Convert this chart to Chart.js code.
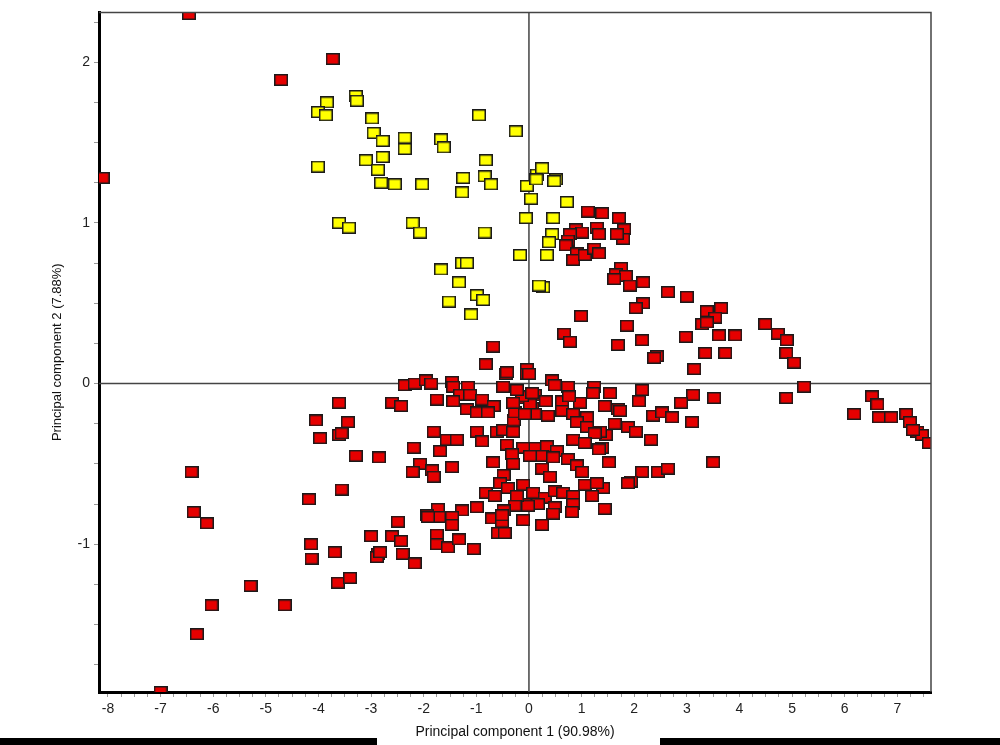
<!DOCTYPE html>
<html>
<head>
<meta charset="utf-8">
<script src="https://cdn.jsdelivr.net/npm/chart.js@4.4.1/dist/chart.umd.min.js"></script>
<style>
  html, body { margin: 0; padding: 0; background: #fff; }
  #wrap { position: relative; width: 1000px; height: 745px; }
</style>
</head>
<body>
<div id="wrap"><canvas id="pcaChart"></canvas></div>
<script>
// Axis ranges and tick labels
const xRange = [-8.17, 7.64];
const yRange = [-1.92, 2.31];
const xTickLabels = [-8, -7, -6, -5, -4, -3, -2, -1, 0, 1, 2, 3, 4, 5, 6, 7];
const yTickLabels = [-1, 0, 1, 2];
const minorStep = 0.25;

// Score values [PC1, PC2], yellow group
const yellowScores = [
    [-3.84, 1.75], [-4.01, 1.69], [-3.86, 1.67], [-3.29, 1.79], [-3.27, 1.76],
    [-2.98, 1.65], [-2.95, 1.56], [-2.78, 1.51], [-2.36, 1.53], [-2.36, 1.46],
    [-1.67, 1.52], [-1.62, 1.47], [-0.95, 1.67], [-0.25, 1.57], [-4.01, 1.35],
    [-3.10, 1.39], [-2.78, 1.41], [-2.87, 1.33], [-2.81, 1.25], [-2.55, 1.24],
    [-2.03, 1.24], [-1.25, 1.28], [-1.27, 1.19], [-0.82, 1.39], [-0.84, 1.29],
    [-0.72, 1.24], [-0.04, 1.23], [0.15, 1.30], [0.25, 1.34], [0.51, 1.27],
    [0.48, 1.26], [0.04, 1.15], [-0.06, 1.03], [0.46, 1.03], [0.72, 1.13],
    [-3.61, 1.00], [-3.42, 0.97], [-2.21, 1.00], [-2.07, 0.94], [-0.84, 0.94],
    [-0.17, 0.80], [0.34, 0.80], [0.44, 0.93], [0.38, 0.88], [-1.67, 0.71],
    [-1.27, 0.75], [-1.18, 0.75], [-1.33, 0.63], [-1.52, 0.51], [-0.99, 0.55],
    [-0.87, 0.52], [-1.10, 0.43], [0.27, 0.60], [0.19, 0.61], [0.14, 1.27]
];

// Score values [PC1, PC2], red group
const redScores = [
    // outliers
    [-6.46, 2.30], [-4.71, 1.89], [-3.73, 2.02], [-8.10, 1.28], [-7.00, -1.92],
    // upper right arm
    [1.12, 1.07], [1.39, 1.06], [1.71, 1.03], [1.81, 0.96], [1.79, 0.90],
    [1.67, 0.93], [0.89, 0.96], [1.01, 0.94], [0.78, 0.93], [0.74, 0.89],
    [0.70, 0.86], [1.29, 0.97], [1.33, 0.93], [0.91, 0.81], [0.84, 0.77],
    [1.06, 0.80], [1.24, 0.84], [1.33, 0.81], [1.75, 0.72], [1.65, 0.68],
    [1.84, 0.67], [1.62, 0.65], [1.92, 0.61], [2.17, 0.63], [2.64, 0.57],
    [3.00, 0.54], [3.38, 0.45], [3.65, 0.47], [3.54, 0.41], [3.29, 0.37],
    [3.38, 0.38], [2.17, 0.50], [2.03, 0.47], [0.99, 0.42], [1.86, 0.36],
    [0.67, 0.31], [0.78, 0.26], [2.15, 0.27], [1.69, 0.24], [2.98, 0.29],
    [3.61, 0.30], [3.92, 0.30], [2.43, 0.17], [2.38, 0.16], [3.35, 0.19],
    [3.73, 0.19], [3.14, 0.09], [4.49, 0.37], [4.73, 0.31], [4.90, 0.27],
    [4.89, 0.19], [5.04, 0.13], [-0.04, 0.09], [-0.04, 0.06], [-0.44, 0.06],
    [-0.68, 0.23], [-0.82, 0.12], [0.00, 0.06], [-0.42, 0.07],
    // right tail
    [5.23, -0.02], [4.89, -0.09], [6.52, -0.08], [6.62, -0.13], [6.18, -0.19],
    [6.65, -0.21], [6.88, -0.21], [7.17, -0.19], [7.24, -0.24], [7.38, -0.30],
    [7.47, -0.32], [7.60, -0.37], [7.30, -0.29],
    // right of centre
    [1.54, -0.06], [1.44, -0.14], [1.69, -0.16], [2.15, -0.04], [2.09, -0.11],
    [3.12, -0.07], [3.52, -0.09], [2.89, -0.12], [2.36, -0.20], [2.53, -0.18],
    [2.72, -0.21], [3.10, -0.24], [1.63, -0.25], [1.88, -0.27], [2.03, -0.30],
    [1.46, -0.32], [2.32, -0.35], [1.39, -0.40], [1.52, -0.49], [3.50, -0.49],
    [2.15, -0.55], [2.45, -0.55], [2.64, -0.53], [1.94, -0.61], [1.41, -0.65],
    [0.44, 0.02], [0.49, -0.01], [0.74, -0.02], [1.24, -0.02], [1.22, -0.06],
    [0.11, -0.07], [-0.11, -0.09], [0.32, -0.11], [0.63, -0.11], [0.97, -0.12],
    [0.76, -0.08], [0.06, -0.15], [0.02, -0.19], [0.36, -0.20], [0.63, -0.17],
    [0.84, -0.19], [1.10, -0.21], [0.91, -0.24], [1.10, -0.27], [1.35, -0.30],
    [1.25, -0.31], [0.84, -0.35], [1.06, -0.37], [1.33, -0.41], [0.11, -0.40],
    [-0.11, -0.40], [0.34, -0.39], [0.53, -0.42], [0.25, -0.45], [0.02, -0.45],
    [0.46, -0.46], [0.74, -0.47], [0.25, -0.53], [0.91, -0.51], [1.01, -0.55],
    [0.40, -0.58], [-0.11, -0.63], [0.08, -0.68], [0.30, -0.71], [0.49, -0.67],
    [0.65, -0.68], [0.84, -0.70], [1.06, -0.63], [1.29, -0.62], [1.20, -0.70],
    [0.84, -0.75], [0.49, -0.77], [0.17, -0.75], [-0.08, -0.75], [1.44, -0.78],
    [0.82, -0.80], [0.46, -0.81], [-0.11, -0.85], [0.25, -0.88], [1.88, -0.62],
    [1.73, -0.17], [-0.02, -0.76], [0.02, -0.13], [-0.13, -0.08],
    // left of centre
    [-2.36, -0.01], [-2.17, 0.00], [-1.96, 0.02], [-1.86, 0.00], [-1.46, 0.01],
    [-1.44, -0.02], [-1.16, -0.02], [-1.31, -0.07], [-1.12, -0.07], [-1.75, -0.10],
    [-1.44, -0.11], [-0.89, -0.10], [-0.67, -0.14], [-1.18, -0.16], [-0.99, -0.18],
    [-0.78, -0.18], [-2.60, -0.12], [-2.43, -0.14], [-1.81, -0.30], [-1.56, -0.35],
    [-1.37, -0.35], [-1.69, -0.42], [-2.19, -0.40], [-2.85, -0.46], [-0.99, -0.30],
    [-0.89, -0.36], [-0.61, -0.30], [-0.49, -0.29], [-0.30, -0.30], [-0.42, -0.38],
    [-0.29, -0.23], [-0.27, -0.18], [-0.30, -0.12], [-0.49, -0.02], [-0.23, -0.04],
    [0.06, -0.06], [0.11, -0.19], [-0.08, -0.19], [-0.32, -0.44], [-0.30, -0.50],
    [-0.68, -0.49], [-2.07, -0.50], [-1.84, -0.54], [-1.81, -0.58], [-2.21, -0.55],
    [-1.46, -0.52], [-0.48, -0.57], [-0.55, -0.62], [-0.82, -0.68], [-0.65, -0.70],
    [-0.40, -0.65], [-0.23, -0.70], [-0.27, -0.76], [-0.48, -0.79], [-0.70, -0.84],
    [-0.99, -0.77], [-1.27, -0.79], [-1.46, -0.83], [-1.73, -0.78], [-1.94, -0.82],
    [-1.71, -0.83], [-1.46, -0.88], [-0.51, -0.86], [-0.59, -0.93], [-0.46, -0.93],
    [-2.49, -0.86], [-3.00, -0.95], [-2.60, -0.95], [-2.43, -0.98], [-1.75, -0.94],
    [-1.75, -1.00], [-1.54, -1.02], [-1.33, -0.97], [-1.05, -1.03], [-2.87, -1.06],
    [-2.89, -1.08], [-2.40, -1.06], [-2.17, -1.12], [-0.51, -0.82], [-1.92, -0.83],
    [-2.83, -1.05],
    // far left
    [-3.61, -0.12], [-4.05, -0.23], [-3.44, -0.24], [-3.97, -0.34], [-3.61, -0.32],
    [-3.29, -0.45], [-6.41, -0.55], [-3.56, -0.66], [-4.18, -0.72], [-6.37, -0.80],
    [-6.12, -0.87], [-4.14, -1.00], [-4.13, -1.09], [-3.69, -1.05], [-3.63, -1.24],
    [-3.40, -1.21], [-5.29, -1.26], [-6.03, -1.38], [-4.64, -1.38], [-6.31, -1.56],
    [-3.56, -0.31]
];

// small filled box used as the marker
function makeMarker(fill) {
    const c = document.createElement('canvas');
    c.width = 14;
    c.height = 12;
    const g = c.getContext('2d');
    g.fillStyle = fill;
    g.fillRect(0, 0, 14, 12);
    g.strokeStyle = '#1a1a1a';
    g.lineWidth = 1.5;
    g.strokeRect(0.75, 0.75, 12.5, 10.5);
    return c;
}

function minorTicks(scale) {
    const list = [];
    const start = Math.ceil(scale.min / minorStep) * minorStep;
    for (let v = start; v <= scale.max + 1e-9; v += minorStep) {
        list.push({ value: Math.round(v * 100) / 100 });
    }
    scale.ticks = list;
}

// frame on top/right, zero lines and the dark bars under the picture
const framePlugin = {
    id: 'frame',
    beforeDatasetsDraw(chart) {
        const { ctx, chartArea: a, scales } = chart;
        ctx.save();
        ctx.strokeStyle = '#444';
        ctx.lineWidth = 1.5;
        const x0 = scales.x.getPixelForValue(0);
        const y0 = scales.y.getPixelForValue(0);
        ctx.beginPath();
        ctx.moveTo(x0, a.top); ctx.lineTo(x0, a.bottom);
        ctx.moveTo(a.left, y0); ctx.lineTo(a.right, y0);
        ctx.stroke();
        ctx.restore();
    },
    afterDraw(chart) {
        const { ctx, chartArea: a } = chart;
        ctx.save();
        ctx.strokeStyle = '#444';
        ctx.lineWidth = 1.5;
        ctx.beginPath();
        ctx.moveTo(a.left, a.top); ctx.lineTo(a.right, a.top); ctx.lineTo(a.right, a.bottom);
        ctx.stroke();
        ctx.fillStyle = '#000';
        ctx.fillRect(0, 738, 377, 7);
        ctx.fillRect(660, 738, 340, 7);
        ctx.restore();
    }
};

document.addEventListener('DOMContentLoaded', () => {
    const toPoints = arr => arr.map(p => ({ x: p[0], y: p[1] }));
    const tickFont = { family: 'Liberation Sans', size: 14 };

    new Chart(document.getElementById('pcaChart').getContext('2d'), {
        type: 'scatter',
        data: {
            datasets: [
                {
                    label: 'Red group',
                    data: toPoints(redScores),
                    pointStyle: makeMarker('#e60000'),
                    pointRadius: 7,
                    clip: 0
                },
                {
                    label: 'Yellow group',
                    data: toPoints(yellowScores),
                    pointStyle: makeMarker('#ffff00'),
                    pointRadius: 7,
                    clip: 0
                }
            ]
        },
        options: {
            responsive: true,
            maintainAspectRatio: false,
            animation: false,
            devicePixelRatio: 1,
            layout: { padding: { left: 46, right: 69, top: 12, bottom: 0 } },
            plugins: {
                legend: { display: false },
                tooltip: { enabled: false }
            },
            scales: {
                x: {
                    type: 'linear',
                    min: xRange[0],
                    max: xRange[1],
                    afterBuildTicks: minorTicks,
                    afterFit: s => { s.height = 53; },
                    grid: { display: true, drawOnChartArea: false, drawTicks: true, tickLength: 5, color: '#999' },
                    border: { display: true, color: '#000', width: 3 },
                    ticks: {
                        autoSkip: false,
                        maxRotation: 0,
                        padding: 4,
                        color: '#222',
                        font: tickFont,
                        callback: v => xTickLabels.includes(v) ? String(v) : ''
                    },
                    title: {
                        display: true,
                        text: 'Principal component 1 (90.98%)',
                        color: '#111',
                        font: { family: 'Liberation Sans', size: 14 },
                        padding: { top: 0, bottom: 4 }
                    }
                },
                y: {
                    type: 'linear',
                    min: yRange[0],
                    max: yRange[1],
                    afterBuildTicks: minorTicks,
                    afterFit: s => { s.width = 53; },
                    grid: { display: true, drawOnChartArea: false, drawTicks: true, tickLength: 5, color: '#999' },
                    border: { display: true, color: '#000', width: 3 },
                    ticks: {
                        autoSkip: false,
                        padding: 4,
                        color: '#222',
                        font: tickFont,
                        callback: v => yTickLabels.includes(v) ? String(v) : ''
                    },
                    title: {
                        display: true,
                        text: 'Principal component 2 (7.88%)',
                        color: '#111',
                        font: { family: 'Liberation Sans', size: 13 },
                        padding: { top: 4, bottom: 0 }
                    }
                }
            }
        },
        plugins: [framePlugin]
    });
});
</script>
</body>
</html>
